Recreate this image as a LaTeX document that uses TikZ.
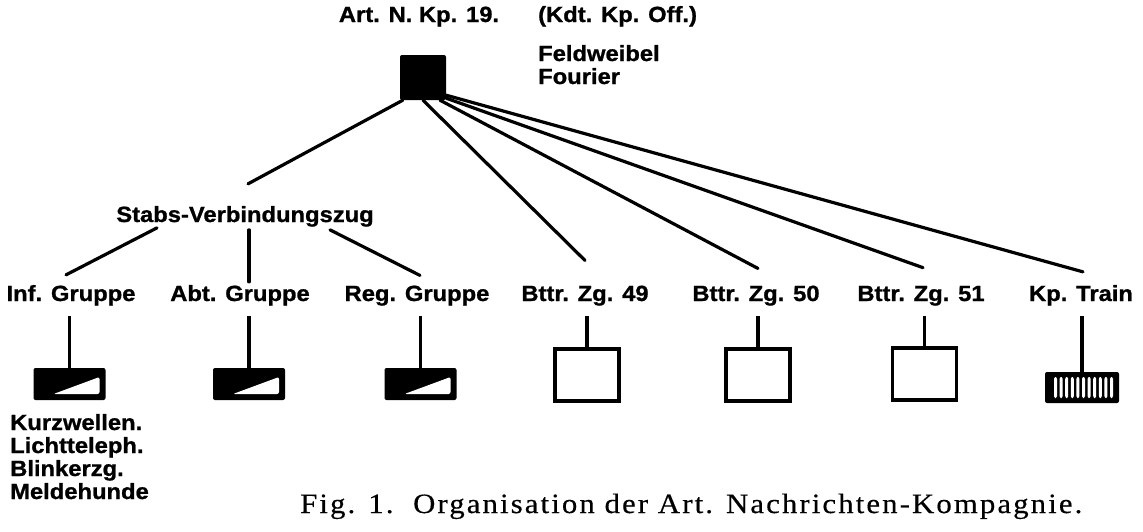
\documentclass[tikz,border=0pt]{standalone}
\usepackage{fontspec}
\newfontfamily\labfont{Liberation Sans}[FakeStretch=1.08,BoldFeatures={FakeBold=1}]
\newfontfamily\capfont{Liberation Serif}[FakeStretch=1.1,LetterSpace=7.5,FakeBold=0.4]
\usetikzlibrary{calc}
\tikzset{
  lab/.style={font={\fontsize{22}{26}\selectfont\labfont\bfseries}, inner sep=0pt, anchor=base},
  labw/.style={lab, anchor=base west},
  capstyle/.style={font={\fontsize{28}{32}\selectfont\capfont}, inner sep=0pt, anchor=base west},
  conn/.style={line width=3.2pt, line cap=round},
  topbox/.style={fill=black, rounded corners=2pt, minimum width=46pt, minimum height=45pt, inner sep=0pt},
  halfbox/.style={fill=black, rounded corners=2pt, minimum width=72pt, minimum height=32pt, inner sep=0pt,
    path picture={\fill[white] ([shift={(20pt,6pt)}]path picture bounding box.south west) --
      ([shift={(-6pt,6pt)}]path picture bounding box.south east) --
      ([shift={(-6pt,23pt)}]path picture bounding box.south east) -- cycle;}},
  emptybox/.style={draw=black, fill=white, line width=3.6pt, minimum width=64pt, minimum height=52pt, inner sep=0pt},
  trainbox/.style={fill=black, rounded corners=2pt, minimum width=74pt, minimum height=31pt, inner sep=0pt,
    path picture={\foreach \i in {0,...,10}{\fill[white] ([shift={(9pt+\i*5.6pt,5pt)}]path picture bounding box.south west) rectangle ++(3pt,21pt);}}}
}
\begin{document}
\begin{tikzpicture}[x=1pt,y=-1pt]
\fill[white] (0,0) rectangle (1143,531);
\useasboundingbox (0,0) rectangle (1143,531);
% top
\node[lab] (art) at (419,22) {Art. N. Kp. 19.};
\node[labw] (kdt) at (538,22) {(Kdt. Kp. Off.)};
\node[labw] (fw) at (538,61) {Feldweibel};
\node[labw] (fo) at (538,84) {Fourier};
\node[topbox] (top) at (423,77.5) {};
% labels
\node[lab] (stabs) at (245,222) {Stabs-Verbindungszug};
\node[lab] (inf) at (71,301) {Inf. Gruppe};
\node[lab] (abt) at (240,301) {Abt. Gruppe};
\node[lab] (reg) at (417,301) {Reg. Gruppe};
\node[lab] (b49) at (585,301) {Bttr. Zg. 49};
\node[lab] (b50) at (756,301) {Bttr. Zg. 50};
\node[lab] (b51) at (921,301) {Bttr. Zg. 51};
\node[lab] (train) at (1081,301) {Kp. Train};
% boxes
\node[halfbox] (infbox) at (69.5,384) {};
\node[halfbox] (abtbox) at (249,384) {};
\node[halfbox] (regbox) at (420.5,384) {};
\node[emptybox] (b49box) at (587,375) {};
\node[emptybox] (b50box) at (758,375) {};
\node[emptybox] (b51box) at (924.5,374) {};
\node[trainbox] (trainbox) at (1082,387.5) {};
% list
\node[labw] (kw) at (10,430) {Kurzwellen.};
\node[labw] (lt) at (10,453) {Lichtteleph.};
\node[labw] (bl) at (10,476) {Blinkerzg.};
\node[labw] (mh) at (10,499) {Meldehunde};
% caption
\node[capstyle] (cap) at (300,513) {Fig. 1.\ \ Organisation der Art. Nachrichten-Kompagnie.};
% connectors from top
\draw[conn] ($(top.south west)+(3,0)$) -- ($(stabs.north)+(3,-22)$);
\draw[conn] (top.south) -- ($(b49.north)+(0,-25)$);
\draw[conn] ($(top.south)+(17,0)$) -- ($(b50.north)+(2,-17)$);
\draw[conn] ($(top.south east)+(0,-2)$) -- ($(b51.north)+(2,-18)$);
\draw[conn] ($(top.south east)+(0,-5)$) -- ($(train.north)+(2,-13)$);
% connectors from stabs
\draw[conn] ($(stabs.south)+(-88,1)$) -- ($(inf.north)+(-5,-10)$);
\draw[conn] ($(stabs.south)+(4,3)$) -- ($(abt.north)+(9,-3)$);
\draw[conn] ($(stabs.south)+(85,3)$) -- ($(reg.north)+(3,-10)$);
% stubs
\foreach \l/\b in {inf/infbox,abt/abtbox,reg/regbox,b49/b49box,b50/b50box,b51/b51box,train/trainbox}{
  \draw[conn, line cap=butt] (\b.north) -- ($(\b.north |- \l.south)+(0,10)$);
}
\end{tikzpicture}
\end{document}
